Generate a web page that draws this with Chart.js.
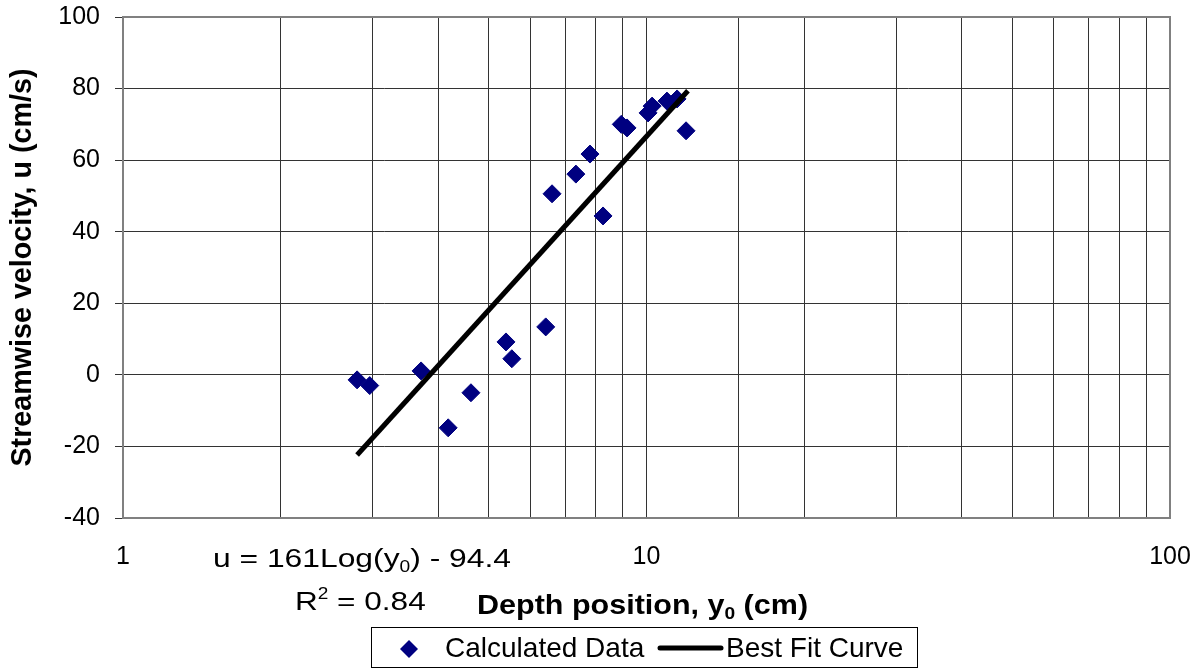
<!DOCTYPE html>
<html>
<head>
<meta charset="utf-8">
<script src="https://cdn.jsdelivr.net/npm/chart.js@4.4.1/dist/chart.umd.min.js"></script>
<style>
  html, body { margin: 0; padding: 0; background: #fff; }
</style>
</head>
<body>
<canvas id="chart" width="1201" height="669"></canvas>
<script>
// Data
const depthCm  = [2.80, 2.96, 3.71, 4.18, 4.62, 5.39, 5.53, 6.42, 6.60, 7.33,
                  7.80, 8.26, 8.95, 9.18, 10.07, 10.25, 10.94, 11.44, 11.90];
const velocity = [-1.4, -3.0, 1.1, -14.8, -5.0, 9.2, 4.5, 13.4, 50.6, 56.1,
                  61.7, 44.4, 70.0, 69.0, 73.2, 75.1, 76.5, 77.1, 68.2];

// Best fit trendline end points
const fitDepth    = [2.8, 12.0];
const fitVelocity = [-22.4, 79.4];

const xTickLabels = [1, 10, 100];
const yTicks      = [-40, -20, 0, 20, 40, 60, 80, 100];

const FONT   = "'Liberation Sans', Arial, sans-serif";
const NAVY   = '#000080';
const GRID   = '#333333';
const FRAME  = '#808080';

const toPoints = (xs, ys) => xs.map((x, i) => ({ x, y: ys[i] }));

// text with sub / superscript parts: [[text, 'sub'|'sup'|null], ...]
// stretch widens the glyphs a bit, the original labels are drawn wider
function drawRich(ctx, x, y, parts, size, weight, stretch) {
  ctx.save();
  ctx.translate(x, y);
  ctx.scale(stretch, 1);
  let cx = 0;
  parts.forEach(([txt, kind]) => {
    const s = kind ? Math.round(size * 0.62) : size;
    ctx.font = `${weight} ${s}px ${FONT}`;
    const dy = kind === 'sub' ? size * 0.2 : kind === 'sup' ? -size * 0.42 : 0;
    ctx.fillText(txt, cx, dy);
    cx += ctx.measureText(txt).width;
  });
  ctx.restore();
}

// frame, equation, x title and boxed legend
const extras = {
  id: 'extras',
  afterDraw(chart) {
    const { ctx, chartArea: a } = chart;
    ctx.save();

    ctx.strokeStyle = FRAME;
    ctx.lineWidth = 2;
    ctx.strokeRect(a.left, a.top, a.right - a.left, a.bottom - a.top);

    ctx.fillStyle = '#000';
    ctx.textBaseline = 'alphabetic';
    ctx.textAlign = 'left';
    drawRich(ctx, 213, 567, [['u = 161Log(y', null], ['0', 'sub'], [') - 94.4', null]], 26.5, 'normal', 1.2);
    drawRich(ctx, 295, 610, [['R', null], ['2', 'sup'], [' = 0.84', null]], 26.5, 'normal', 1.19);
    drawRich(ctx, 477, 614, [['Depth position, y', null], ['0', 'sub'], [' (cm)', null]], 27, 'bold', 1.13);

    // legend
    ctx.strokeStyle = '#000';
    ctx.lineWidth = 1;
    ctx.strokeRect(371.5, 627.5, 546, 40);
    ctx.fillStyle = NAVY;
    ctx.beginPath();
    ctx.moveTo(400, 649); ctx.lineTo(409, 640); ctx.lineTo(418, 649); ctx.lineTo(409, 658);
    ctx.closePath();
    ctx.fill();

    ctx.fillStyle = '#000';
    ctx.font = `28px ${FONT}`;
    ctx.textBaseline = 'alphabetic';
    ctx.fillText('Calculated Data', 445, 657);
    ctx.strokeStyle = '#000';
    ctx.lineWidth = 5;
    ctx.lineCap = 'round';
    ctx.beginPath();
    ctx.moveTo(660, 648); ctx.lineTo(721, 648);
    ctx.stroke();
    ctx.fillText('Best Fit Curve', 726, 657);

    ctx.restore();
  }
};

new Chart(document.getElementById('chart'), {
  type: 'scatter',
  data: {
    datasets: [
      {
        label: 'Calculated Data',
        data: toPoints(depthCm, velocity),
        pointStyle: 'rectRot',
        pointRadius: 9,
        pointBackgroundColor: NAVY,
        pointBorderColor: NAVY,
        pointBorderWidth: 1,
        showLine: false,
        order: 1,
      },
      {
        label: 'Best Fit Curve',
        data: toPoints(fitDepth, fitVelocity),
        showLine: true,
        borderColor: '#000',
        borderWidth: 5,
        pointRadius: 0,
        order: 0,
      },
    ],
  },
  options: {
    responsive: false,
    animation: false,
    layout: { padding: { top: 17, right: 31, left: 0, bottom: 0 } },
    plugins: {
      legend: { display: false },
      tooltip: { enabled: false },
    },
    scales: {
      x: {
        type: 'logarithmic',
        min: 1,
        max: 100,
        afterFit: (scale) => {
          scale.height = 151;
          scale.paddingLeft = 0;
          scale.paddingRight = 0;
        },
        grid: { color: GRID, lineWidth: 1, drawTicks: false },
        border: { display: false },
        ticks: {
          autoSkip: false,
          maxRotation: 0,
          padding: 24,
          color: '#000',
          font: { family: FONT, size: 25 },
          callback: (v) => xTickLabels.includes(v) ? String(v) : '',
        },
      },
      y: {
        type: 'linear',
        min: yTicks[0],
        max: yTicks[yTicks.length - 1],
        afterFit: (scale) => {
          scale.width = 123;
          scale.paddingTop = 0;
          scale.paddingBottom = 0;
        },
        grid: { color: GRID, lineWidth: 1, tickLength: 8 },
        border: { display: false },
        ticks: {
          stepSize: 20,
          padding: 15,
          color: '#000',
          font: { family: FONT, size: 25 },
        },
        title: {
          display: true,
          text: 'Streamwise velocity, u (cm/s)',
          color: '#000',
          font: { family: FONT, size: 28.7, weight: 'bold' },
          padding: { top: 6, bottom: 0 },
        },
      },
    },
  },
  plugins: [extras],
});
</script>
</body>
</html>
